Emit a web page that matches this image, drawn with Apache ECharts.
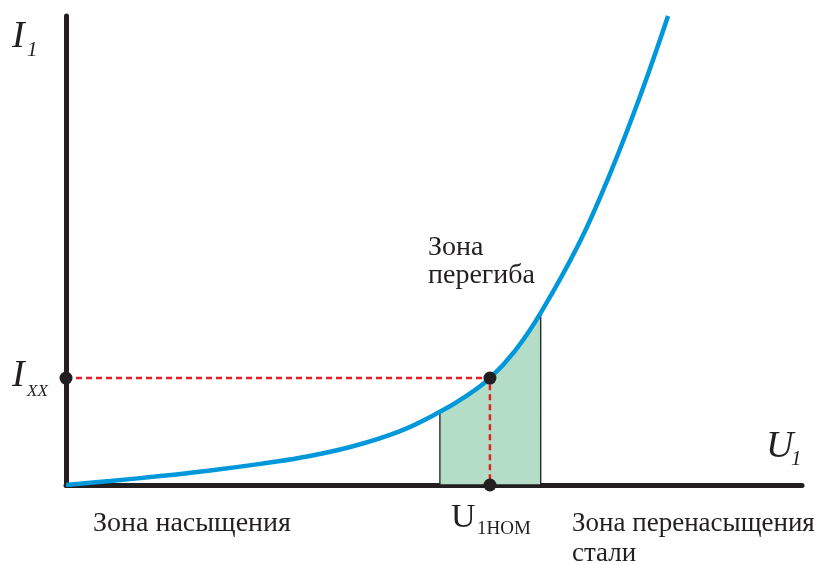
<!DOCTYPE html>
<html><head><meta charset="utf-8">
<script src="https://cdn.jsdelivr.net/npm/echarts@6/dist/echarts.min.js"></script>
<style>html,body{margin:0;padding:0;background:#fff}#c{width:823px;height:565px}</style>
</head><body><div id="c"></div><script>
// Magnetising curve I1(U1), relative units (axis 0..100)
const curveU = [0, 6.0, 12.8, 19.6, 26.4, 31.8, 38.6, 45.4, 50.8, 54.2, 57.6, 61.0, 64.5, 69.8, 73.9, 78.0, 81.8];
const curveI = [0, 0.85, 1.9, 3.1, 4.5, 5.8, 8.1, 11.5, 15.6, 18.8, 22.8, 28.6, 36.7, 51.8, 66.3, 82.9, 100];
const zoneStart = 50.8, zoneEnd = 64.5;   // "Зона перегиба" shaded band
const uNom = 57.6, iXX = 22.8;            // nominal point
const axisMin = 0, axisMax = 100;

const FONT = '"Liberation Serif", "Times New Roman", serif';
const INK = '#231F20';
function txt(str, x, baseline, size, italic) {
  return { type: 'text', z: 100, silent: true, style: {
    text: str, x: x, y: baseline - 0.34 * size, fontFamily: FONT, fontSize: size,
    fontStyle: italic ? 'italic' : 'normal', fill: INK, verticalAlign: 'middle', align: 'left' } };
}

const chart = echarts.init(document.getElementById('c'), null, { renderer: 'canvas' });
const axisCommon = {
  type: 'value', min: axisMin, max: axisMax,
  axisLine: { show: true, onZero: false, lineStyle: { color: INK, width: 5 } },
  axisTick: { show: false }, axisLabel: { show: false }, splitLine: { show: false }
};
chart.setOption({
  animation: false,
  grid: { left: 66, right: 21, top: 16, bottom: 80, containLabel: false },
  xAxis: axisCommon,
  yAxis: axisCommon,
  series: [
    {
      type: 'custom', z: 1, silent: true, clip: false,
      data: [[zoneStart, zoneEnd]],
      renderItem: function (params, api) {
        const pts = [api.coord([zoneStart, 0])];
        curveU.forEach(function (u, i) { if (u >= zoneStart && u <= zoneEnd) pts.push(api.coord([u, curveI[i]])); });
        pts.push(api.coord([zoneEnd, 0]));
        return { type: 'polygon', shape: { points: pts, smooth: 0 }, style: { fill: '#B4DDC7', stroke: INK, lineWidth: 1.3 } };
      }
    },
    {
      type: 'line', z: 3, silent: true, showSymbol: false, smooth: 0.4,
      data: curveU.map(function (u, i) { return [u, curveI[i]]; }),
      lineStyle: { color: '#0098DA', width: 4.5 }
    },
    {
      type: 'line', z: 4, silent: true, showSymbol: false,
      data: [[axisMin, iXX], [uNom, iXX], [uNom, axisMin]],
      lineStyle: { color: '#E31E24', width: 2.5, type: [6, 4] }
    },
    {
      type: 'scatter', z: 5, silent: true, clip: false, symbolSize: 13,
      data: [[axisMin, iXX], [uNom, iXX], [uNom, axisMin]],
      itemStyle: { color: INK, opacity: 1 }
    }
  ],
  graphic: [
    txt('I', 12, 50, 38, true), txt('1', 27, 58, 21, true),
    txt('I', 12, 389, 38, true), txt('XX', 27, 397, 17, true),
    txt('U', 766, 460, 38, true), txt('1', 791, 467, 21, true),
    txt('U', 451, 530, 34, false), txt('1НОМ', 477, 535, 19, false),
    txt('Зона', 428, 257, 28, false), txt('перегиба', 428, 285, 28, false),
    txt('Зона насыщения', 93, 533, 28, false),
    txt('Зона перенасыщения', 572, 533, 27, false), txt('стали', 572, 563, 27, false)
  ]
});
</script></body></html>
